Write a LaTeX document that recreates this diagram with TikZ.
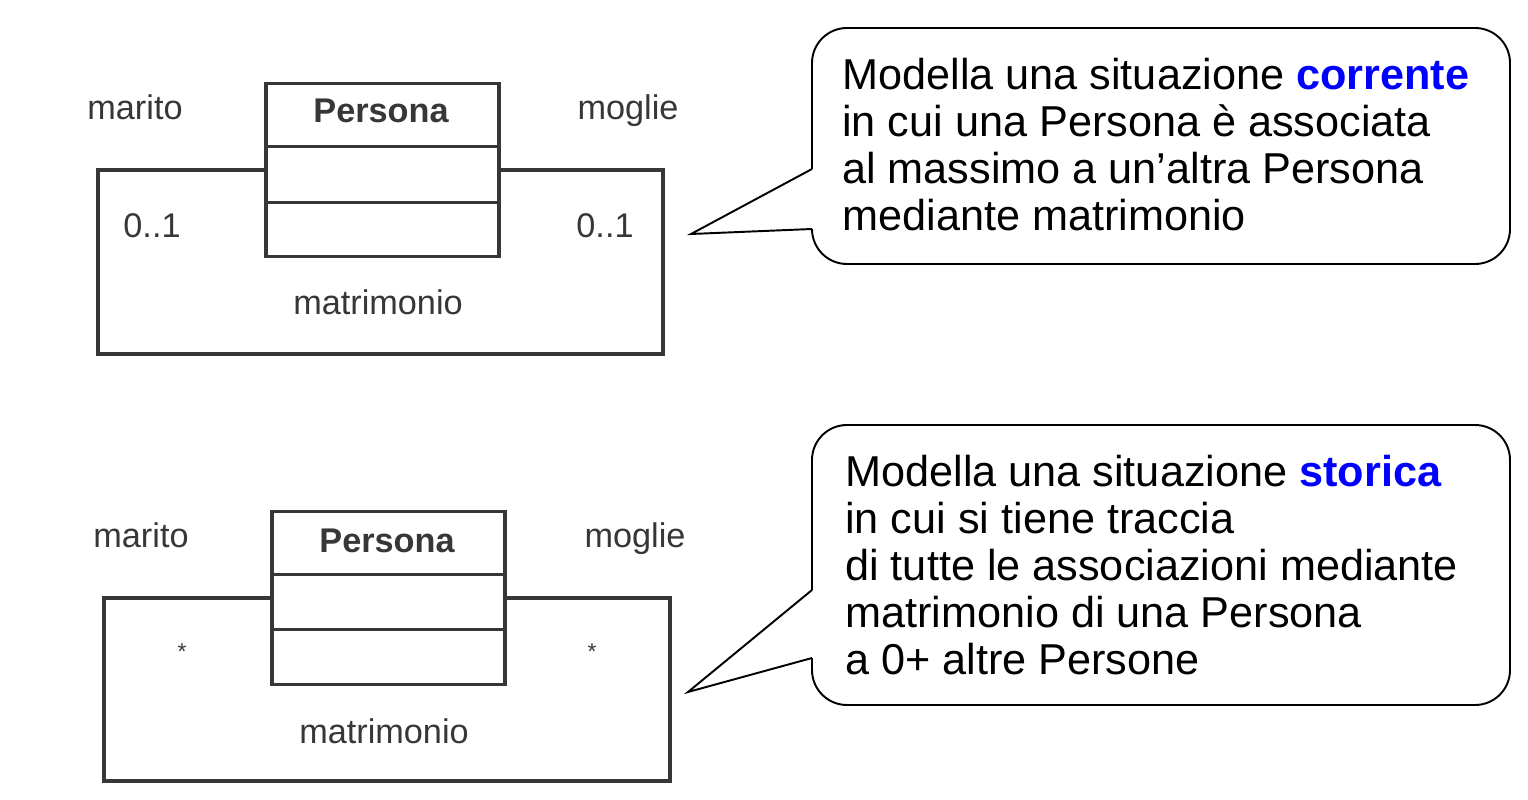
\documentclass[tikz,border=0pt]{standalone}
\usepackage{fontspec}
\setmainfont{Liberation Sans}
\usepackage{tikz}
\usetikzlibrary{calc, positioning}
\definecolor{umlgray}{RGB}{55,55,55}

\begin{document}
\begin{tikzpicture}[x=0.02cm, y=-0.02cm,
  classbox/.style={draw=umlgray, line width=1.8pt, minimum width=4.66cm, minimum height=3.46cm, inner sep=0},
  assoc/.style={draw=umlgray, line width=1.8pt},
  umltext/.style={text=umlgray, font=\fontsize{19.5}{22}\selectfont, inner sep=0},
  balloon/.style={line width=1.1pt, rounded corners=0.7cm},
  note/.style={align=left, inner sep=0, font=\fontsize{24.6}{26.7}\selectfont}]
\useasboundingbox (0,0) rectangle (1528,800);

% Top: situazione corrente
\node[classbox] (pers1) at (382.5,170) {};
\draw[assoc] ($(pers1.north west)!0.368!(pers1.south west)$) -- ($(pers1.north east)!0.368!(pers1.south east)$);
\draw[assoc] ($(pers1.north west)!0.684!(pers1.south west)$) -- ($(pers1.north east)!0.684!(pers1.south east)$);
\node[umltext, anchor=base, font=\fontsize{19.5}{22}\selectfont\bfseries] (name1) at (381,123) {Persona};
\coordinate (loopL1) at (98,354);
\coordinate (loopR1) at (663,354);
\draw[assoc] (pers1.west) -| (loopL1) -- (loopR1) |- (pers1.east);
\node[umltext, anchor=base] (marito1) at (135,120) {marito};
\node[umltext, anchor=base] (moglie1) at (628,120) {moglie};
\node[umltext, anchor=base] (molt1a) at (152,238) {0..1};
\node[umltext, anchor=base] (molt1b) at (605,238) {0..1};
\node[umltext, anchor=base] (matr1) at (378,315) {matrimonio};

% Callout 1
\draw[balloon] (812,169) -- (812,28) -- (1510,28) -- (1510,264) -- (812,264) -- (812,229);
\coordinate (tip1) at (691,234);
\draw[line width=1.1pt] (812,229) -- (tip1) -- (812,169);
\node[note, anchor=north west] (note1) at (842,58) {Modella una situazione \textcolor{blue}{\bfseries corrente}\\
in cui una Persona è associata\\
al massimo a un’altra Persona\\
mediante matrimonio};

% Bottom: situazione storica
\node[classbox] (pers2) at (388.5,598) {};
\draw[assoc] ($(pers2.north west)!0.366!(pers2.south west)$) -- ($(pers2.north east)!0.366!(pers2.south east)$);
\draw[assoc] ($(pers2.north west)!0.68!(pers2.south west)$) -- ($(pers2.north east)!0.68!(pers2.south east)$);
\node[umltext, anchor=base, font=\fontsize{19.5}{22}\selectfont\bfseries] (name2) at (387,552) {Persona};
\coordinate (loopL2) at (104,781);
\coordinate (loopR2) at (670,781);
\draw[assoc] (pers2.west) -| (loopL2) -- (loopR2) |- (pers2.east);
\node[umltext, anchor=base] (marito2) at (141,547) {marito};
\node[umltext, anchor=base] (moglie2) at (635,547) {moglie};
\node[umltext, font=\fontsize{13}{15}\selectfont] (molt2a) at (182,652) {*};
\node[umltext, font=\fontsize{13}{15}\selectfont] (molt2b) at (592,652) {*};
\node[umltext, anchor=base] (matr2) at (384,743) {matrimonio};

% Callout 2
\draw[balloon] (812,590) -- (812,425) -- (1510,425) -- (1510,705) -- (812,705) -- (812,658);
\coordinate (tip2) at (688,692);
\draw[line width=1.1pt] (812,658) -- (tip2) -- (812,590);
\node[note, anchor=north west] (note2) at (845,455) {Modella una situazione \textcolor{blue}{\bfseries storica}\\
in cui si tiene traccia\\
di tutte le associazioni mediante\\
matrimonio di una Persona\\
a 0+ altre Persone};
\end{tikzpicture}
\end{document}
